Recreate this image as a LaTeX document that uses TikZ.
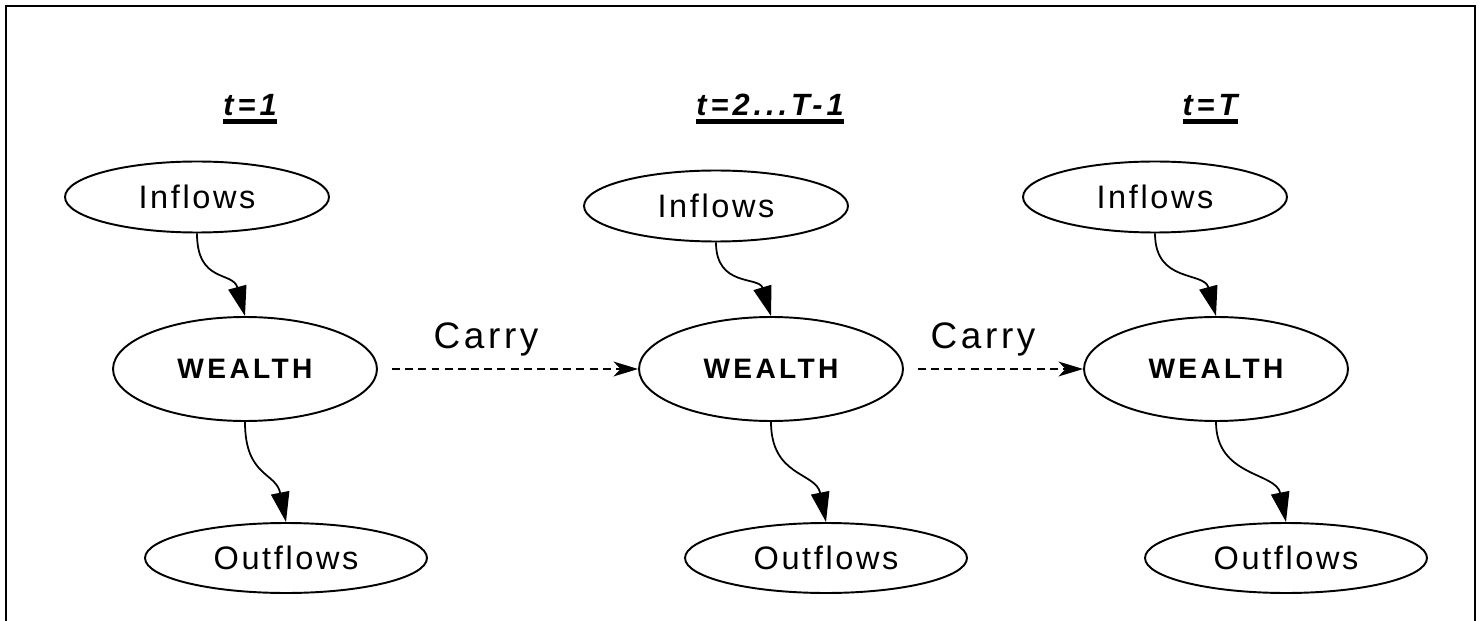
\documentclass[tikz,border=0pt]{standalone}
\usepackage{fontspec}
\setmainfont{Liberation Sans}
\newfontfamily\flowfont[LetterSpace=8]{Liberation Sans}
\newfontfamily\wealthfont[LetterSpace=12]{Liberation Sans}
\newfontfamily\carryfont[LetterSpace=10]{Liberation Sans}
\newfontfamily\headfont[LetterSpace=13]{Liberation Sans}
\usetikzlibrary{shapes.geometric,arrows.meta}
\newcommand{\ulhead}[1]{\setbox0\hbox{#1}\rlap{\rule[-4.3pt]{\wd0}{2.5pt}}\box0}

\begin{document}
\begin{tikzpicture}[x=0.02cm,y=-0.02cm,
  inbox/.style={draw,ellipse,line width=1.1pt,inner sep=0pt,minimum width=5.28cm,minimum height=1.42cm,font=\flowfont\fontsize{18.5}{20}\selectfont},
  outbox/.style={inbox,minimum width=5.64cm,minimum height=1.4cm},
  wbox/.style={draw,ellipse,line width=1.1pt,inner sep=0pt,minimum width=5.28cm,minimum height=2.08cm,font=\wealthfont\bfseries\fontsize{16}{18}\selectfont},
  head/.style={anchor=base,inner sep=0pt,font=\headfont\bfseries\itshape\fontsize{17.5}{20}\selectfont},
  carrylbl/.style={anchor=base,inner sep=0pt,font=\carryfont\fontsize{21}{24}\selectfont},
  flow/.style={line width=1pt,-{Triangle[length=17pt,width=10.5pt]}},
  carry/.style={line width=0.8pt,dash pattern=on 4.5pt off 3pt,-{Stealth[length=14pt,width=8.5pt,inset=4pt]},shorten <=10\pgflinewidth}]
  \useasboundingbox (0,0) rectangle (1480,621);
  \draw[line width=1.1pt] (6,621) -- (6,6) -- (1475,6) -- (1475,621);

  \node (t1) at (250,116) [head]{\ulhead{t=1}};
  \node (t2) at (770,116) [head]{\ulhead{t=2...T-1}};
  \node (t3) at (1210,116) [head]{\ulhead{t=T}};

  \node (in1) at (197,197) [inbox]{Inflows};
  \node (W1) at (245,369) [wbox]{WEALTH};
  \node (out1) at (286,558) [outbox]{Outflows};

  \node (in2) at (716,206) [inbox]{Inflows};
  \node (W2) at (771,369) [wbox]{WEALTH};
  \node (out2) at (826,558) [outbox]{Outflows};

  \node (in3) at (1155,197) [inbox]{Inflows};
  \node (W3) at (1216,369) [wbox]{WEALTH};
  \node (out3) at (1286,558) [outbox]{Outflows};

  \node (c1) at (486,349) [carrylbl]{Carry};
  \node (c2) at (983,349) [carrylbl]{Carry};

  \draw[flow] (in1.south) .. controls +(0,50) and +(-12,-45) .. (W1.north);
  \draw[flow] (W1.south) .. controls +(0,55) and +(-10,-50) .. (out1.north);

  \draw[flow] (in2.south) .. controls +(0,45) and +(-12,-40) .. (W2.north);
  \draw[flow] (W2.south) .. controls +(0,55) and +(-10,-50) .. (out2.north);

  \draw[flow] (in3.south) .. controls +(0,50) and +(-12,-45) .. (W3.north);
  \draw[flow] (W3.south) .. controls +(0,55) and +(-10,-50) .. (out3.north);

  \draw[carry] (W1) -- (W2);
  \draw[carry] (W2) -- (W3);

\end{tikzpicture}
\end{document}
